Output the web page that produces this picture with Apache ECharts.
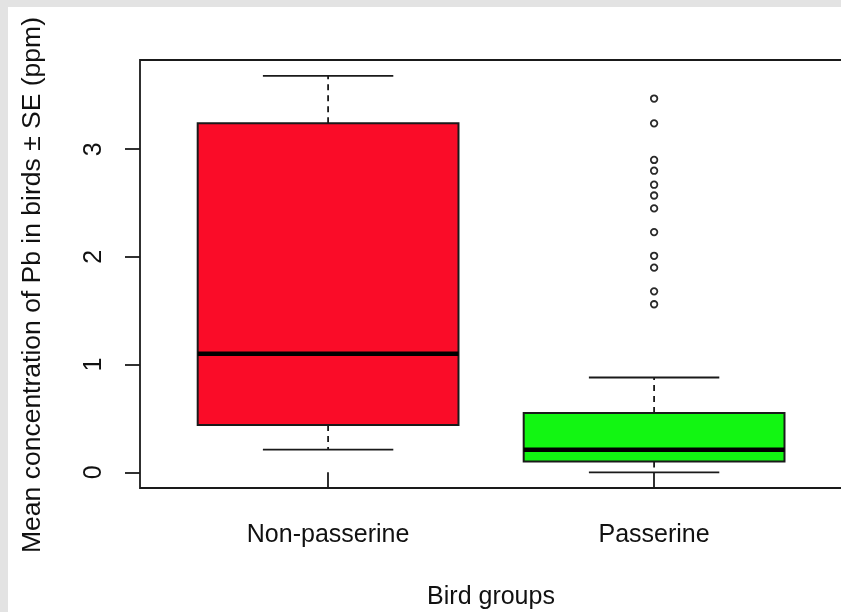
<!DOCTYPE html>
<html>
<head>
<meta charset="utf-8">
<script src="https://cdn.jsdelivr.net/npm/echarts@6/dist/echarts.min.js"></script>
<style>
html,body{margin:0;padding:0;background:#fff;}
#c{width:841px;height:612px;}
</style>
</head>
<body>
<div id="c"></div>
<script>
// ---- data ----
const categories = ['Non-passerine', 'Passerine'];
const categoryPositions = [1, 2];
const whiskerLow = [0.21, 0.0];
const q1Values = [0.44, 0.10];
const medianValues = [1.10, 0.21];
const q3Values = [3.24, 0.55];
const whiskerHigh = [3.68, 0.88];
const passerineOutliers = [3.47, 3.24, 2.90, 2.80, 2.67, 2.57, 2.45, 2.23, 2.01, 1.90, 1.68, 1.56];
const yTicks = [0, 1, 2, 3];
const boxColors = ['#FA0C28', '#12F612'];

const FONT = '"Liberation Sans", Arial, sans-serif';

const boxData = categories.map((c, i) => [categoryPositions[i], whiskerLow[i], q1Values[i], medianValues[i], q3Values[i], whiskerHigh[i], i]);
const outlierData = passerineOutliers.map(v => [categoryPositions[1], v]);

function renderBox(params, api) {
  const x = api.value(0);
  const lo = api.coord([x, api.value(1)]);
  const q1 = api.coord([x, api.value(2)]);
  const med = api.coord([x, api.value(3)]);
  const q3 = api.coord([x, api.value(4)]);
  const hi = api.coord([x, api.value(5)]);
  const idx = api.value(6);
  const bw = api.size([0.8, 0])[0];
  const cw = api.size([0.4, 0])[0];
  const cx = lo[0];
  const dashStyle = {stroke: '#1a1a1a', lineWidth: 1.8, lineDash: [6, 5]};
  const solid = {stroke: '#1a1a1a', lineWidth: 1.8};
  return {
    type: 'group',
    children: [
      {type: 'line', shape: {x1: cx, y1: q3[1], x2: cx, y2: hi[1]}, style: dashStyle},
      {type: 'line', shape: {x1: cx, y1: q1[1], x2: cx, y2: lo[1]}, style: dashStyle},
      {type: 'line', shape: {x1: cx - cw / 2, y1: hi[1], x2: cx + cw / 2, y2: hi[1]}, style: solid},
      {type: 'line', shape: {x1: cx - cw / 2, y1: lo[1], x2: cx + cw / 2, y2: lo[1]}, style: solid},
      {type: 'rect', shape: {x: cx - bw / 2, y: q3[1], width: bw, height: q1[1] - q3[1]},
        style: {fill: boxColors[idx], stroke: '#1a1a1a', lineWidth: 2}},
      {type: 'line', shape: {x1: cx - bw / 2, y1: med[1], x2: cx + bw / 2, y2: med[1]},
        style: {stroke: '#000', lineWidth: 4.5}}
    ]
  };
}

const chart = echarts.init(document.getElementById('c'), null, {renderer: 'canvas'});
chart.setOption({
  backgroundColor: '#fff',
  animation: false,
  grid: {left: 140, width: 705, top: 60, bottom: 124, outerBoundsMode: 'none', containLabel: false,
    show: true, borderColor: '#1a1a1a', borderWidth: 1.8, backgroundColor: 'transparent'},
  xAxis: {
    type: 'value', min: 0.423, max: 2.5856,
    splitLine: {show: false},
    axisLine: {show: false},
    axisTick: {show: true, length: 15, customValues: categoryPositions, lineStyle: {color: '#1a1a1a', width: 1.8}},
    axisLabel: {
      customValues: categoryPositions,
      formatter: v => categories[categoryPositions.indexOf(Math.round(v))] || '',
      margin: 35, fontSize: 25, color: '#111', fontFamily: FONT
    }
  },
  yAxis: {
    type: 'value', min: -0.146, max: 3.828,
    splitLine: {show: false},
    axisLine: {show: false},
    axisTick: {show: true, length: 15, customValues: yTicks, lineStyle: {color: '#1a1a1a', width: 1.8}},
    axisLabel: {
      customValues: yTicks, rotate: 90, margin: 33,
      fontSize: 25, color: '#111', fontFamily: FONT
    }
  },
  graphic: [
    {type: 'rect', left: 0, top: 0, shape: {width: 8, height: 612}, style: {fill: '#e3e3e3'}, silent: true},
    {type: 'rect', left: 0, top: 0, shape: {width: 841, height: 7}, style: {fill: '#e3e3e3'}, silent: true},
    {type: 'text', x: 33, y: 285, rotation: Math.PI / 2,
      style: {text: 'Mean concentration of Pb in birds ± SE (ppm)', fill: '#111', font: '26.5px "Liberation Sans", Arial, sans-serif', textAlign: 'center', textVerticalAlign: 'middle'}},
    {type: 'text', x: 491, y: 597,
      style: {text: 'Bird groups', fill: '#111', font: '25px "Liberation Sans", Arial, sans-serif', textAlign: 'center', textVerticalAlign: 'middle'}}
  ],
  series: [
    {type: 'custom', renderItem: renderBox, data: boxData, encode: {x: 0, y: [1, 2, 3, 4, 5]}, z: 2},
    {type: 'scatter', data: outlierData, symbol: 'circle', symbolSize: 6.5,
      itemStyle: {color: '#fff', borderColor: '#2a2a2a', borderWidth: 1.8, opacity: 1}, z: 3}
  ]
});
</script>
</body>
</html>
